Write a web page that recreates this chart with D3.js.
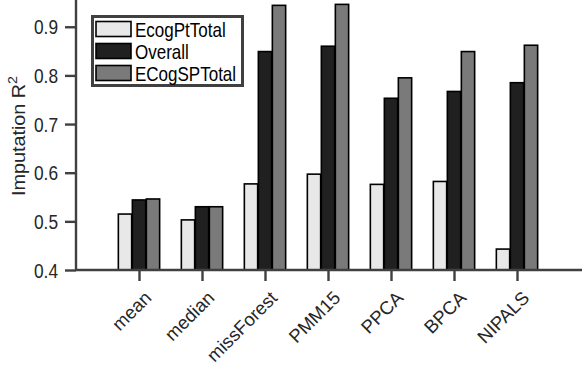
<!DOCTYPE html>
<html><head><meta charset="utf-8">
<script src="https://cdn.jsdelivr.net/npm/d3@7"></script>
<style>body{margin:0;background:#fff}svg{display:block;font-family:"Liberation Sans",Arial,sans-serif}</style>
</head><body>
<script>
const categories = ["mean","median","missForest","PMM15","PPCA","BPCA","NIPALS"];
const seriesNames = ["EcogPtTotal","Overall","ECogSPTotal"];
const ecogPtTotal = [0.515,0.503,0.577,0.597,0.576,0.582,0.443];
const overall     = [0.544,0.530,0.849,0.860,0.753,0.767,0.785];
const ecogSPTotal = [0.546,0.530,0.944,0.946,0.795,0.849,0.862];
const yTicks = [0.4,0.5,0.6,0.7,0.8,0.9];
const colors = ["#e8e8e8","#202020","#7a7a7a"];
const series = [ecogPtTotal, overall, ecogSPTotal];

const W=582,H=368;
const SY=1.16; // vertical stretch of text as in the reference
const svg=d3.select("body").append("svg").attr("width",W).attr("height",H);
const x=d3.scaleLinear().domain([0,categories.length+1]).range([76,580]);
const y=d3.scaleLinear().domain([0.4,0.955]).range([270,0]);
const axisColor="#404040", textColor="#262626";
const FF="Liberation Sans, Arial, sans-serif";

// bars
const bw=13.3, step=14;
series.forEach((vals,si)=>{
  svg.append("g").selectAll("rect").data(vals).join("rect")
    .attr("x",(d,i)=>x(i+1)+(si-1)*step-bw/2)
    .attr("y",d=>y(d))
    .attr("width",bw)
    .attr("height",d=>y(0.4)-y(d))
    .attr("fill",colors[si]).attr("stroke","#000").attr("stroke-width",1.6);
});

// y axis
const ya=svg.append("g").attr("transform","translate(76,0)")
  .call(d3.axisLeft(y).tickValues(yTicks).tickFormat(d3.format(".1f")).tickSize(11).tickPadding(7));
ya.select(".domain").attr("stroke",axisColor).attr("stroke-width",2.4).attr("d","M0,0V270");
ya.selectAll(".tick line").attr("stroke",axisColor).attr("stroke-width",2.4);
ya.selectAll(".tick text").attr("font-size",17.3).attr("fill",textColor).attr("font-family",FF)
  .attr("x",null).attr("dy","0.35em").attr("transform",`translate(-18,0) scale(1,${SY})`);

// x axis
const xa=svg.append("g").attr("transform","translate(0,270)")
  .call(d3.axisBottom(x).tickValues(d3.range(1,categories.length+1)).tickFormat(d=>categories[d-1]).tickSize(11));
xa.select(".domain").attr("stroke",axisColor).attr("stroke-width",2.4).attr("d","M76,0H582");
xa.selectAll(".tick line").attr("stroke",axisColor).attr("stroke-width",2.4);
xa.selectAll(".tick text").attr("font-size",18.5).attr("fill",textColor)
  .attr("font-family",FF)
  .attr("text-anchor","end").attr("dy",null).attr("y",null)
  .attr("transform","translate(13,29) rotate(-45)");

// y label
const yl=svg.append("text").attr("transform","translate(25,136) rotate(-90) scale(1.1,1)")
  .attr("text-anchor","middle").attr("font-size",18).attr("fill",textColor).attr("font-family",FF);
yl.append("tspan").text("Imputation R");
yl.append("tspan").attr("font-size",13).attr("dy",-8).text("2");

// legend
const lg=svg.append("g");
lg.append("rect").attr("x",92.5).attr("y",16.5).attr("width",150).attr("height",69)
  .attr("fill","#fff").attr("stroke",axisColor).attr("stroke-width",3);
seriesNames.forEach((n,i)=>{
  const yy=21.5+i*22;
  lg.append("rect").attr("x",96).attr("y",yy).attr("width",35).attr("height",15)
    .attr("fill",colors[i]).attr("stroke","#000").attr("stroke-width",1.6);
  lg.append("text").attr("transform",`translate(135,${yy+15}) scale(1,${SY})`)
    .attr("font-size",17).attr("fill","#000").attr("font-family",FF).text(n);
});
</script>
</body></html>
